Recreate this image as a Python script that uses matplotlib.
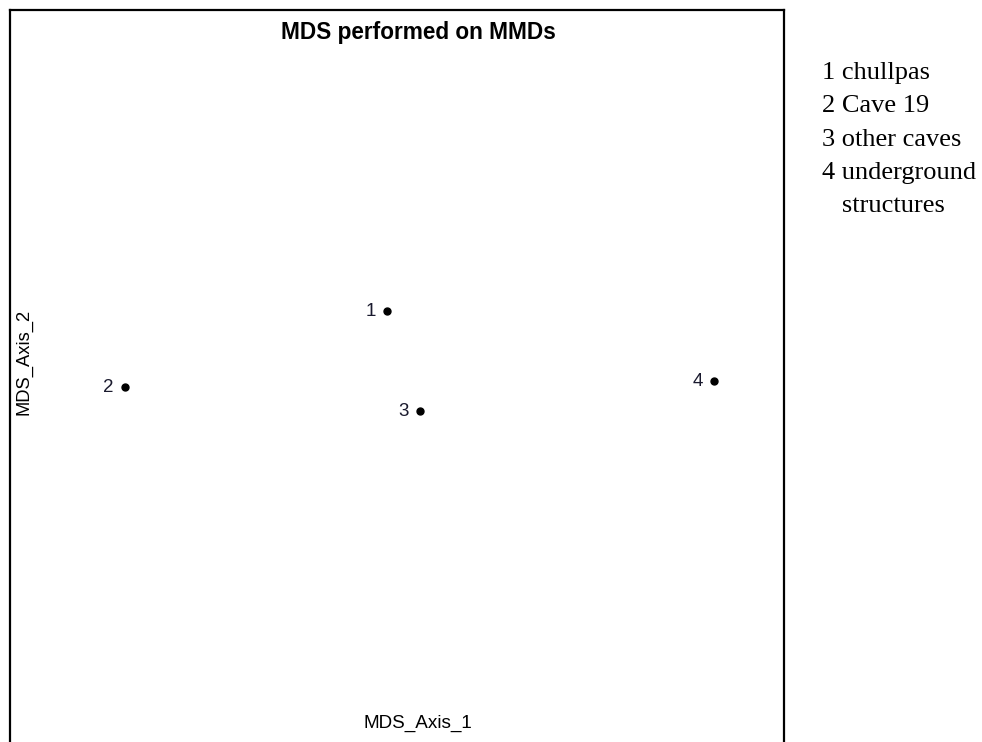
import matplotlib
matplotlib.use("Agg")
import matplotlib.pyplot as plt

# MDS coordinates of the four groups
group_ids = ["1", "2", "3", "4"]
group_names = ["chullpas", "Cave 19", "other caves", "underground\nstructures"]
axis1 = [-0.026, -0.703, 0.059, 0.819]
axis2 = [0.186, -0.019, -0.084, -0.003]

W, H = 982, 742
fig = plt.figure(figsize=(W / 100, H / 100), dpi=100)

# plotting region in pixels (bottom edge runs past the canvas)
left, right, top, bottom = 10, 784, 10, 750
ax = fig.add_axes([left / W, 1 - bottom / H, (right - left) / W, (bottom - top) / H])
ax.set_xlim(-1, 1)
ax.set_ylim(-1, 1)
ax.set_xticks([])
ax.set_yticks([])
for sp in ax.spines.values():
    sp.set_linewidth(1.6)
    sp.set_color("black")

sans = "Liberation Sans"
ax.plot(axis1, axis2, "o", color="black", ms=5, linestyle="none")
for gid, x, y in zip(group_ids, axis1, axis2):
    ax.annotate(gid, (x, y), xytext=(-11, 0), textcoords="offset pixels",
                ha="right", va="center", fontsize=13.5, family=sans, color="#1a1a2e")

cx = 418
fig.text(cx / W, 1 - 33 / H, "MDS performed on MMDs",
         ha="center", va="center", fontsize=16.3, fontweight="bold", family=sans)
fig.text(cx / W, 1 - 723 / H, "MDS_Axis_1",
         ha="center", va="center", fontsize=13.6, family=sans)
fig.text(24 / W, 1 - 362 / H, "MDS_Axis_2", rotation=90,
         ha="center", va="center", fontsize=13.2, family=sans)

# key for the group numbers
ly = 73
for gid, name in zip(group_ids, group_names):
    for k, part in enumerate(name.split("\n")):
        txt = f"{gid} {part}" if k == 0 else "   " + part
        fig.text(822 / W, 1 - ly / H, txt, ha="left", va="center",
                 fontsize=19, family="Liberation Serif")
        ly += 33.3

fig.savefig("out.png", dpi=100)
